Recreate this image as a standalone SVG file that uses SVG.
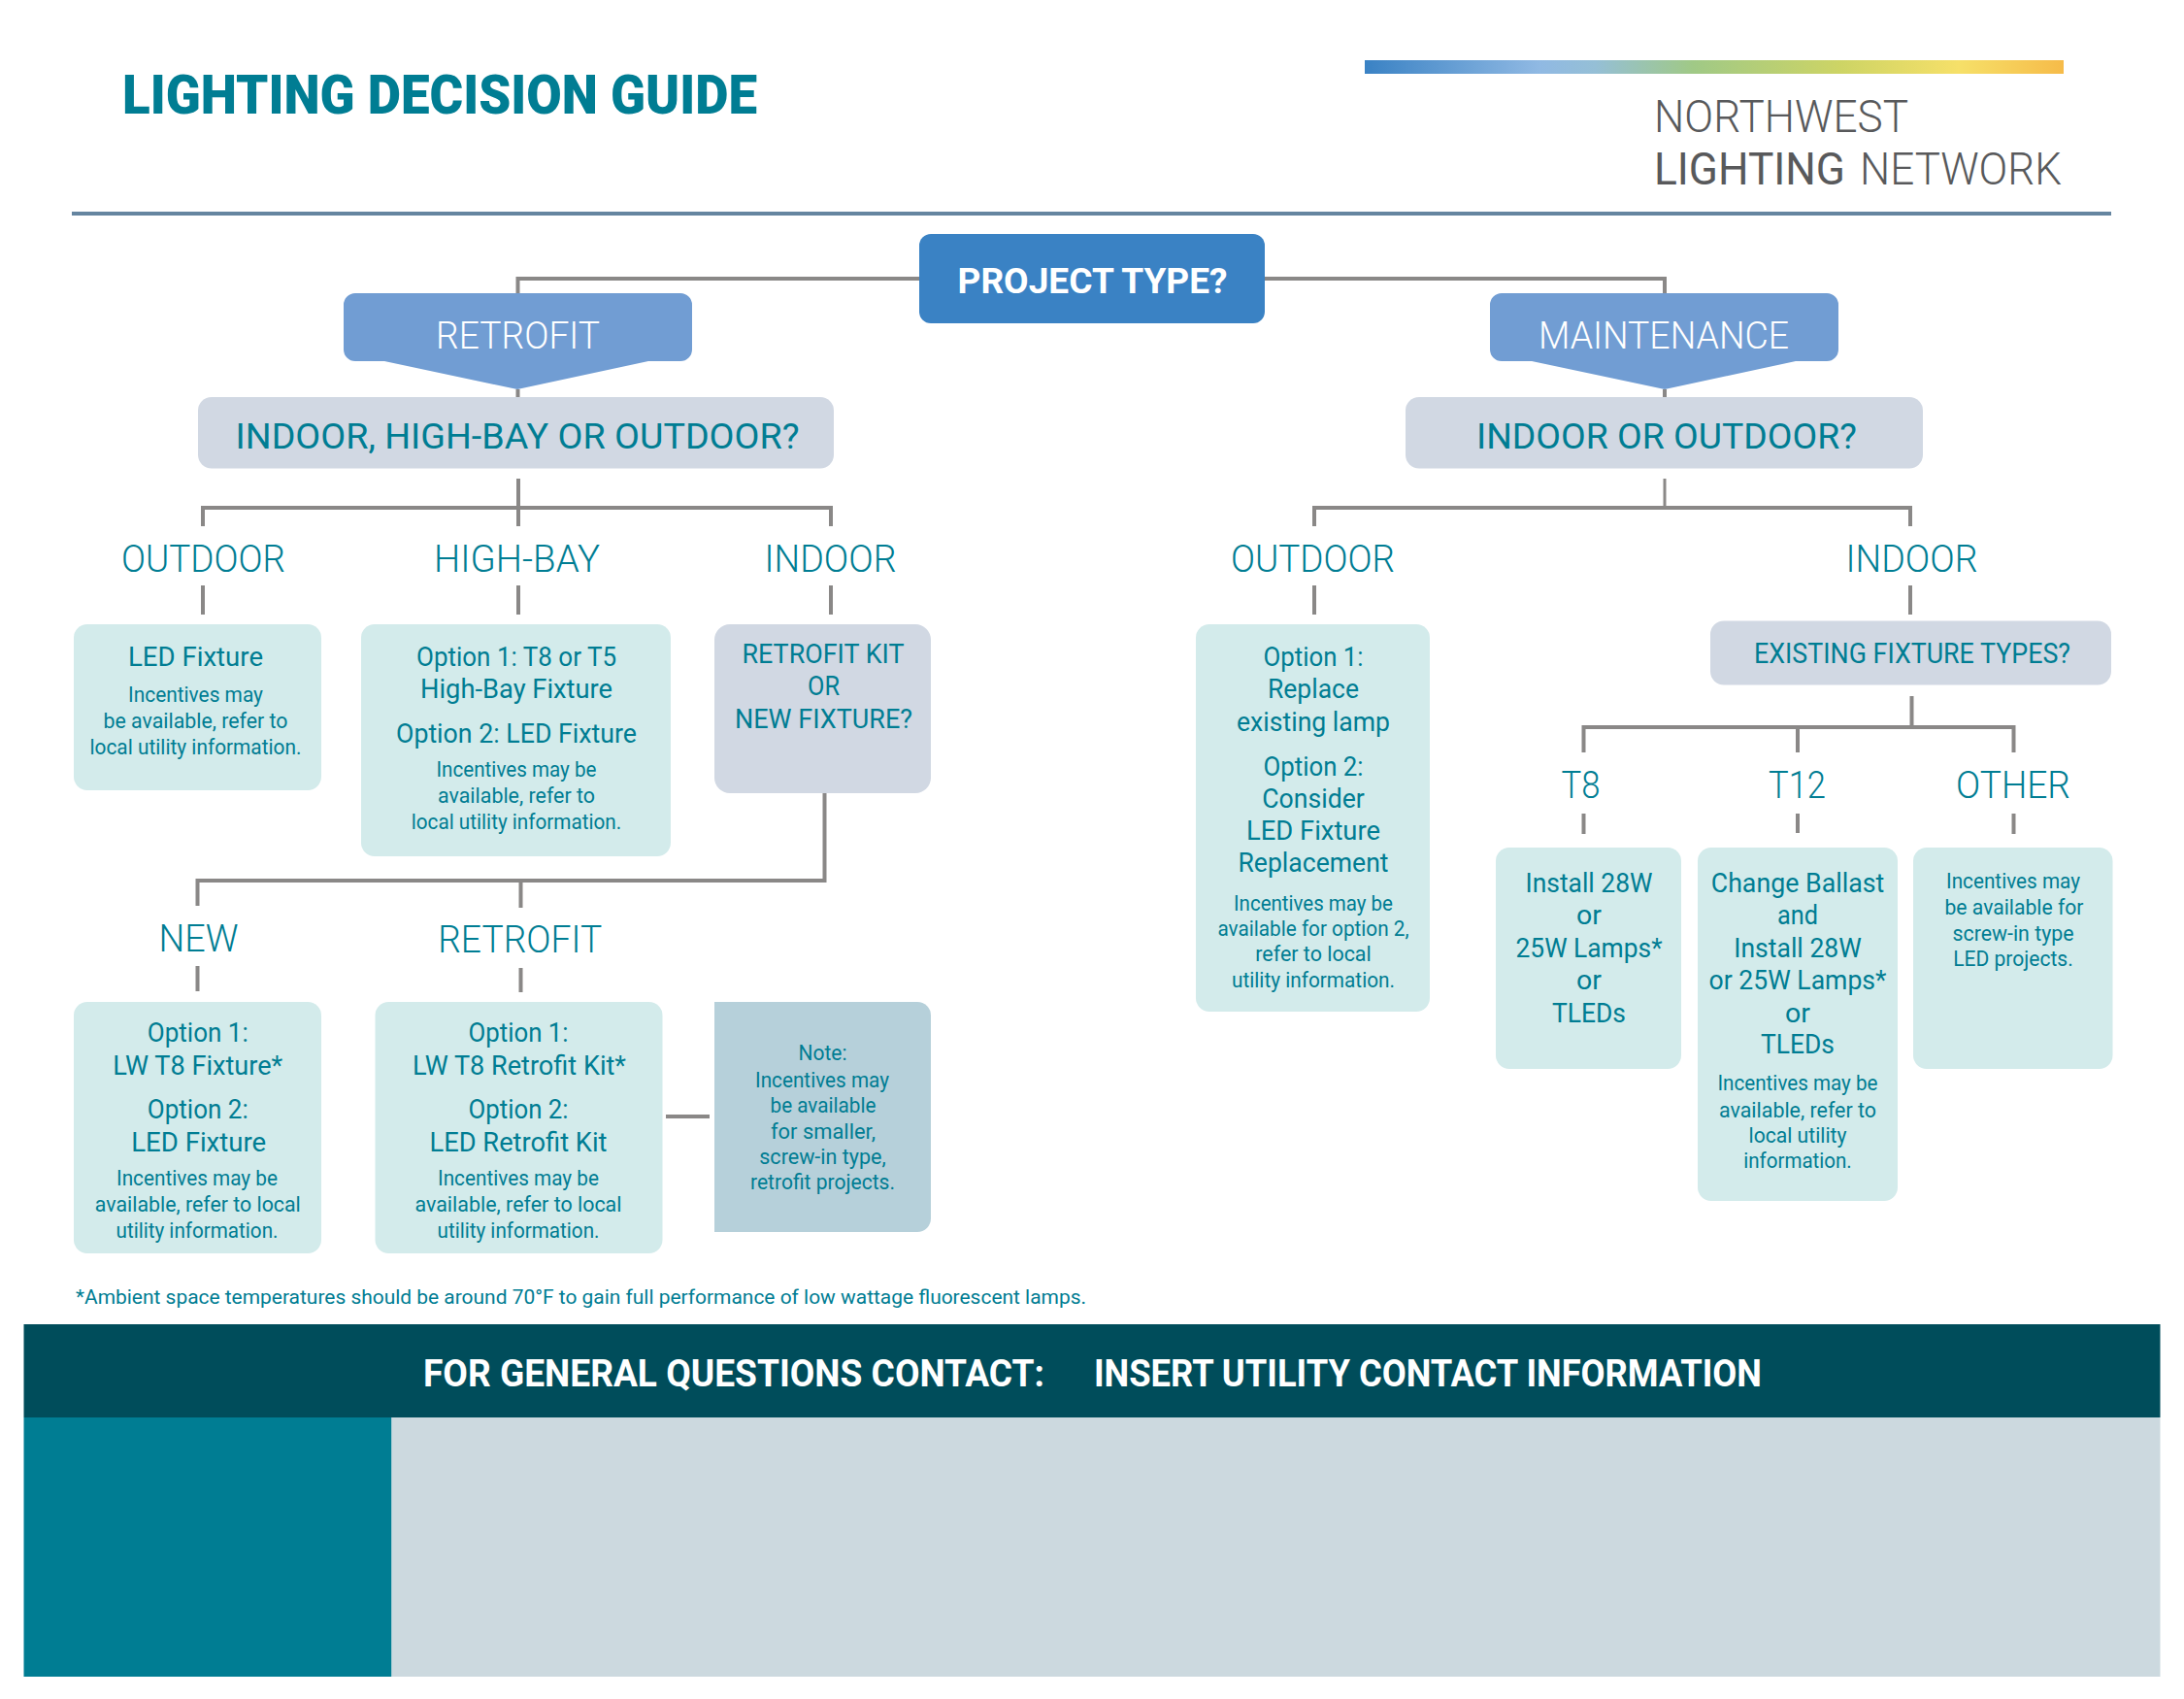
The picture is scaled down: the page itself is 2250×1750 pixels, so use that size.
<svg xmlns="http://www.w3.org/2000/svg" width="2250" height="1750" viewBox="0 0 2250 1750">
<style>
text{font-family:"Roboto","Liberation Sans",sans-serif;text-anchor:middle;fill:#007d93}
.title{font-size:56px;font-weight:900}
.brand{font-size:46px;font-weight:300;fill:#58595b;text-anchor:start}
.project{font-size:37px;font-weight:700;fill:#fff}
.kind{font-size:39px;font-weight:300;fill:#fff}
.q{font-size:37px;font-weight:400}
.lab{font-size:39px;font-weight:300}
.h{font-size:27px;font-weight:400}
.s{font-size:21.5px;font-weight:400}
.fn{font-size:20.5px;font-weight:400;text-anchor:start}
.ban{font-size:38px;font-weight:700;fill:#fff;text-anchor:start}
.c line,.c path{stroke:#8a8887;stroke-width:4;fill:none}
.box{fill:#d3ebeb}
.qb{fill:#d1d8e3}
</style>
<defs>
<linearGradient id="g" x1="0" x2="1" y1="0" y2="0">
<stop offset="0" stop-color="#3a82c4"/><stop offset=".25" stop-color="#90b9e3"/><stop offset=".33" stop-color="#95bfd6"/><stop offset=".47" stop-color="#a0c986"/><stop offset=".68" stop-color="#cdd465"/><stop offset=".85" stop-color="#f6e069"/><stop offset="1" stop-color="#f6bb49"/>
</linearGradient>
</defs>

<g id="header">
<text class="title" x="453" y="117" textLength="654" lengthAdjust="spacingAndGlyphs">LIGHTING DECISION GUIDE</text>
<rect x="1406" y="62" width="720" height="14" fill="url(#g)"/>
<text class="brand" x="1704" y="135.500" textLength="262" lengthAdjust="spacingAndGlyphs">NORTHWEST</text>
<text class="brand" x="1704" y="189.500" textLength="197" lengthAdjust="spacingAndGlyphs" style="font-weight:400">LIGHTING</text>
<text class="brand" x="1916" y="189.500" textLength="208" lengthAdjust="spacingAndGlyphs">NETWORK</text>
<rect x="74" y="218" width="2101" height="4" fill="#6585a0"/>
</g>

<g id="connectors" class="c">
<path d="M947 287H533.500V302M1303 287H1715V302"/>
<line x1="533.500" y1="401" x2="533.500" y2="409"/>
<line x1="1715" y1="401" x2="1715" y2="409"/>
<line x1="534" y1="493" x2="534" y2="542"/>
<path d="M209 542V523H856V542"/>
<line x1="209" y1="603" x2="209" y2="633"/>
<line x1="534" y1="603" x2="534" y2="633"/>
<line x1="856" y1="603" x2="856" y2="633"/>
<path d="M849.500 816V907H203.500V933"/>
<line x1="536.500" y1="907" x2="536.500" y2="935"/>
<line x1="203.500" y1="995" x2="203.500" y2="1021"/>
<line x1="536.500" y1="997" x2="536.500" y2="1022"/>
<line x1="686" y1="1150" x2="731" y2="1150"/>
<line x1="1715" y1="493" x2="1715" y2="523" style="stroke-width:3"/>
<path d="M1354 542V523H1968V542"/>
<line x1="1354" y1="603" x2="1354" y2="633"/>
<line x1="1968" y1="603" x2="1968" y2="633"/>
<line x1="1969.500" y1="717" x2="1969.500" y2="749"/>
<path d="M1631.500 775V749H2074.500V775"/>
<line x1="1852" y1="749" x2="1852" y2="775"/>
<line x1="1631.500" y1="838" x2="1631.500" y2="859"/>
<line x1="1852" y1="838" x2="1852" y2="858"/>
<line x1="2074.500" y1="838" x2="2074.500" y2="859"/>
</g>

<g id="project">
<rect x="947" y="241" width="356" height="92" rx="12" fill="#3a82c4"/>
<text class="project" x="1125.500" y="302" textLength="278" lengthAdjust="spacingAndGlyphs">PROJECT TYPE?</text>
</g>
<g id="retrofit">
<path d="M366 302H701A12 12 0 0 1 713 314V360A12 12 0 0 1 701 372H668L533 401L396 372H366A12 12 0 0 1 354 360V314A12 12 0 0 1 366 302Z" fill="#719dd3"/>
<text class="kind" x="533.500" y="358.500" textLength="169" lengthAdjust="spacingAndGlyphs">RETROFIT</text>
</g>
<g id="maintenance">
<path d="M1547 302H1882A12 12 0 0 1 1894 314V360A12 12 0 0 1 1882 372H1850L1715 401L1578 372H1547A12 12 0 0 1 1535 360V314A12 12 0 0 1 1547 302Z" fill="#719dd3"/>
<text class="kind" x="1714" y="358.500" textLength="258" lengthAdjust="spacingAndGlyphs">MAINTENANCE</text>
</g>
<g id="q-retrofit">
<rect class="qb" x="204" y="409" width="655" height="73.500" rx="14"/>
<text class="q" x="533" y="461.500" textLength="581" lengthAdjust="spacingAndGlyphs">INDOOR, HIGH-BAY OR OUTDOOR?</text>
</g>
<g id="q-maintenance">
<rect class="qb" x="1448" y="409" width="533" height="73.500" rx="14"/>
<text class="q" x="1717" y="461.500" textLength="392" lengthAdjust="spacingAndGlyphs">INDOOR OR OUTDOOR?</text>
</g>

<g id="labels">
<text class="lab" x="209.500" y="588.500" textLength="169" lengthAdjust="spacingAndGlyphs">OUTDOOR</text>
<text class="lab" x="532.500" y="588.500" textLength="171" lengthAdjust="spacingAndGlyphs">HIGH-BAY</text>
<text class="lab" x="855.500" y="588.500" textLength="136" lengthAdjust="spacingAndGlyphs">INDOOR</text>
<text class="lab" x="1352.500" y="588.500" textLength="169" lengthAdjust="spacingAndGlyphs">OUTDOOR</text>
<text class="lab" x="1969.500" y="588.500" textLength="136" lengthAdjust="spacingAndGlyphs">INDOOR</text>
<text class="lab" x="204.500" y="979.500" textLength="82" lengthAdjust="spacingAndGlyphs">NEW</text>
<text class="lab" x="535.700" y="980.500" textLength="169" lengthAdjust="spacingAndGlyphs">RETROFIT</text>
<text class="lab" x="1628.500" y="821.500" textLength="40" lengthAdjust="spacingAndGlyphs">T8</text>
<text class="lab" x="1851.500" y="821.500" textLength="59" lengthAdjust="spacingAndGlyphs">T12</text>
<text class="lab" x="2074" y="821.500" textLength="118" lengthAdjust="spacingAndGlyphs">OTHER</text>
</g>

<g id="outdoor-led">
<rect class="box" x="76" y="643" width="255" height="171" rx="14"/>
<text class="h" x="201.500" y="686" textLength="139" lengthAdjust="spacingAndGlyphs">LED Fixture</text>
<text class="s" x="201.500" y="723" textLength="139" lengthAdjust="spacingAndGlyphs">Incentives may</text>
<text class="s" x="201.500" y="750" textLength="190" lengthAdjust="spacingAndGlyphs">be available, refer to</text>
<text class="s" x="201.500" y="777" textLength="218" lengthAdjust="spacingAndGlyphs">local utility information.</text>
</g>
<g id="highbay-options">
<rect class="box" x="372" y="643" width="319" height="239" rx="14"/>
<text class="h" x="532" y="686" textLength="206" lengthAdjust="spacingAndGlyphs">Option 1: T8 or T5</text>
<text class="h" x="532" y="719" textLength="198" lengthAdjust="spacingAndGlyphs">High-Bay Fixture</text>
<text class="h" x="532" y="765" textLength="248" lengthAdjust="spacingAndGlyphs">Option 2: LED Fixture</text>
<text class="s" x="532" y="800" textLength="165" lengthAdjust="spacingAndGlyphs">Incentives may be</text>
<text class="s" x="532" y="827" textLength="162" lengthAdjust="spacingAndGlyphs">available, refer to</text>
<text class="s" x="532" y="854" textLength="216.500" lengthAdjust="spacingAndGlyphs">local utility information.</text>
</g>
<g id="kit-or-new">
<rect class="qb" x="736" y="643" width="223" height="174" rx="16"/>
<text class="h" x="848" y="683" textLength="167" lengthAdjust="spacingAndGlyphs">RETROFIT KIT</text>
<text class="h" x="848.500" y="716" textLength="33" lengthAdjust="spacingAndGlyphs">OR</text>
<text class="h" x="848.500" y="750" textLength="183" lengthAdjust="spacingAndGlyphs">NEW FIXTURE?</text>
</g>
<g id="new-options">
<rect class="box" x="76" y="1032" width="255" height="259" rx="14"/>
<text class="h" x="203.800" y="1073" textLength="104" lengthAdjust="spacingAndGlyphs">Option 1:</text>
<text class="h" x="203.800" y="1107" textLength="175" lengthAdjust="spacingAndGlyphs">LW T8 Fixture*</text>
<text class="h" x="203.800" y="1152" textLength="104" lengthAdjust="spacingAndGlyphs">Option 2:</text>
<text class="h" x="204.700" y="1186" textLength="139" lengthAdjust="spacingAndGlyphs">LED Fixture</text>
<text class="s" x="203" y="1221" textLength="166" lengthAdjust="spacingAndGlyphs">Incentives may be</text>
<text class="s" x="203.800" y="1248" textLength="212" lengthAdjust="spacingAndGlyphs">available, refer to local</text>
<text class="s" x="203" y="1275" textLength="167" lengthAdjust="spacingAndGlyphs">utility information.</text>
</g>
<g id="retrofit-options">
<rect class="box" x="386.500" y="1032" width="296" height="259" rx="14"/>
<text class="h" x="534" y="1073" textLength="103" lengthAdjust="spacingAndGlyphs">Option 1:</text>
<text class="h" x="535" y="1107" textLength="220" lengthAdjust="spacingAndGlyphs">LW T8 Retrofit Kit*</text>
<text class="h" x="534" y="1152" textLength="103" lengthAdjust="spacingAndGlyphs">Option 2:</text>
<text class="h" x="534" y="1186" textLength="183" lengthAdjust="spacingAndGlyphs">LED Retrofit Kit</text>
<text class="s" x="534" y="1221" textLength="166" lengthAdjust="spacingAndGlyphs">Incentives may be</text>
<text class="s" x="534" y="1248" textLength="213" lengthAdjust="spacingAndGlyphs">available, refer to local</text>
<text class="s" x="534" y="1275" textLength="167" lengthAdjust="spacingAndGlyphs">utility information.</text>
</g>
<g id="note">
<path d="M736 1032H945A14 14 0 0 1 959 1046V1255A14 14 0 0 1 945 1269H736Z" fill="#b6d0da"/>
<text class="s" x="847.500" y="1092" textLength="50" lengthAdjust="spacingAndGlyphs">Note:</text>
<text class="s" x="847" y="1119.500" textLength="138" lengthAdjust="spacingAndGlyphs">Incentives may</text>
<text class="s" x="848" y="1145.500" textLength="109" lengthAdjust="spacingAndGlyphs">be available</text>
<text class="s" x="848" y="1172.500" textLength="108" lengthAdjust="spacingAndGlyphs">for smaller,</text>
<text class="s" x="847.500" y="1198.500" textLength="130.500" lengthAdjust="spacingAndGlyphs">screw-in type,</text>
<text class="s" x="847.500" y="1225" textLength="149" lengthAdjust="spacingAndGlyphs">retrofit projects.</text>
</g>
<g id="maint-outdoor">
<rect class="box" x="1232" y="643" width="241" height="399" rx="14"/>
<text class="h" x="1353" y="686" textLength="103" lengthAdjust="spacingAndGlyphs">Option 1:</text>
<text class="h" x="1353" y="719" textLength="94" lengthAdjust="spacingAndGlyphs">Replace</text>
<text class="h" x="1353" y="753" textLength="158" lengthAdjust="spacingAndGlyphs">existing lamp</text>
<text class="h" x="1353" y="798.500" textLength="103" lengthAdjust="spacingAndGlyphs">Option 2:</text>
<text class="h" x="1353" y="831.500" textLength="105.500" lengthAdjust="spacingAndGlyphs">Consider</text>
<text class="h" x="1353" y="864.500" textLength="138" lengthAdjust="spacingAndGlyphs">LED Fixture</text>
<text class="h" x="1353" y="898" textLength="155" lengthAdjust="spacingAndGlyphs">Replacement</text>
<text class="s" x="1353" y="937.500" textLength="164" lengthAdjust="spacingAndGlyphs">Incentives may be</text>
<text class="s" x="1353" y="963.500" textLength="197" lengthAdjust="spacingAndGlyphs">available for option 2,</text>
<text class="s" x="1353" y="989.500" textLength="119.500" lengthAdjust="spacingAndGlyphs">refer to local</text>
<text class="s" x="1353" y="1017" textLength="168" lengthAdjust="spacingAndGlyphs">utility information.</text>
</g>
<g id="q-existing">
<rect class="qb" x="1762" y="639.500" width="413" height="66" rx="14"/>
<text class="q" style="font-size:29px" x="1970" y="682.500" textLength="326" lengthAdjust="spacingAndGlyphs">EXISTING FIXTURE TYPES?</text>
</g>
<g id="t8">
<rect class="box" x="1541" y="873" width="191" height="228" rx="14"/>
<text class="h" x="1637" y="919" textLength="131" lengthAdjust="spacingAndGlyphs">Install 28W</text>
<text class="h" x="1637" y="952" textLength="26" lengthAdjust="spacingAndGlyphs">or</text>
<text class="h" x="1637" y="986" textLength="151" lengthAdjust="spacingAndGlyphs">25W Lamps*</text>
<text class="h" x="1637" y="1019" textLength="26" lengthAdjust="spacingAndGlyphs">or</text>
<text class="h" x="1637" y="1053" textLength="76" lengthAdjust="spacingAndGlyphs">TLEDs</text>
</g>
<g id="t12">
<rect class="box" x="1749" y="873" width="206" height="364" rx="14"/>
<text class="h" x="1852" y="919" textLength="178.500" lengthAdjust="spacingAndGlyphs">Change Ballast</text>
<text class="h" x="1852" y="952" textLength="42" lengthAdjust="spacingAndGlyphs">and</text>
<text class="h" x="1852" y="986" textLength="131.500" lengthAdjust="spacingAndGlyphs">Install 28W</text>
<text class="h" x="1852" y="1019" textLength="183" lengthAdjust="spacingAndGlyphs">or 25W Lamps*</text>
<text class="h" x="1852" y="1053" textLength="26" lengthAdjust="spacingAndGlyphs">or</text>
<text class="h" x="1852" y="1085" textLength="76" lengthAdjust="spacingAndGlyphs">TLEDs</text>
<text class="s" x="1852" y="1122.500" textLength="165" lengthAdjust="spacingAndGlyphs">Incentives may be</text>
<text class="s" x="1852" y="1150.500" textLength="162" lengthAdjust="spacingAndGlyphs">available, refer to</text>
<text class="s" x="1852" y="1176.500" textLength="101" lengthAdjust="spacingAndGlyphs">local utility</text>
<text class="s" x="1852" y="1203" textLength="111.500" lengthAdjust="spacingAndGlyphs">information.</text>
</g>
<g id="other">
<rect class="box" x="1971" y="873" width="205.500" height="228" rx="14"/>
<text class="s" x="2074" y="914.500" textLength="138" lengthAdjust="spacingAndGlyphs">Incentives may</text>
<text class="s" x="2075" y="941.500" textLength="143" lengthAdjust="spacingAndGlyphs">be available for</text>
<text class="s" x="2074" y="968.500" textLength="125" lengthAdjust="spacingAndGlyphs">screw-in type</text>
<text class="s" x="2074" y="994.500" textLength="123.500" lengthAdjust="spacingAndGlyphs">LED projects.</text>
</g>

<g id="footer">
<text class="fn" x="78" y="1343" textLength="1041" lengthAdjust="spacingAndGlyphs">*Ambient space temperatures should be around 70°F to gain full performance of low wattage fluorescent lamps.</text>
<rect x="24.500" y="1364" width="2201" height="96" fill="#004d5b"/>
<text class="ban" x="436" y="1428" textLength="640" lengthAdjust="spacingAndGlyphs">FOR GENERAL QUESTIONS CONTACT:</text>
<text class="ban" x="1127" y="1428" textLength="688" lengthAdjust="spacingAndGlyphs">INSERT UTILITY CONTACT INFORMATION</text>
<rect x="24.500" y="1460" width="379" height="267" fill="#007d93"/>
<rect x="403.500" y="1460" width="1822" height="267" fill="#ccd9df"/>
</g>
</svg>
